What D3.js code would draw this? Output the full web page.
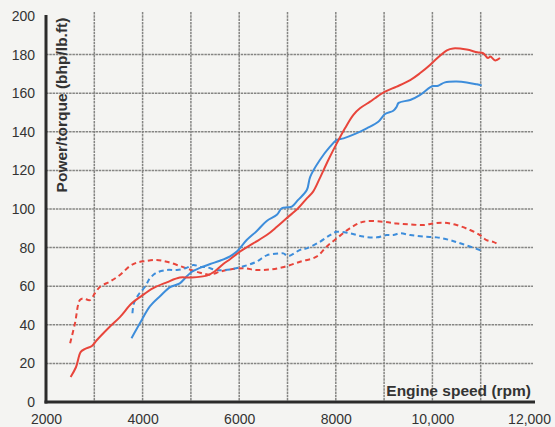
<!DOCTYPE html>
<html><head><meta charset="utf-8">
<script src="https://cdn.jsdelivr.net/npm/d3@7"></script>
<style>
html,body{margin:0;padding:0;background:#f4f4f2;}
svg{display:block;}
text{font-family:"Liberation Sans",Arial,Helvetica,sans-serif;}
</style></head>
<body>
<svg id="c" width="555" height="427"></svg>
<script>
const xTicks = [2000, 4000, 6000, 8000, 10000, 12000];
const xTickLabels = ["2000", "4000", "6000", "8000", "10,000", "12,000"];
const xGrid = [3000, 4000, 5000, 6000, 7000, 8000, 9000, 10000, 11000];
const yTicks = [0, 20, 40, 60, 80, 100, 120, 140, 160, 180, 200];
const yGrid = [20, 40, 60, 80, 100, 120, 140, 160, 180];

const redPowerRpm = [2510,2620,2720,2810,2950,3050,3320,3530,3770,3980,4220,4500,4770,4980,5330,5500,5670,5810,6020,6290,6570,6780,6980,7220,7400,7530,7670,7845,8020,8190,8360,8500,8710,8810,9020,9260,9540,9740,9950,10020,10300,10430,10710,10930,11050,11150,11200,11300,11400];
const redPowerVal = [13,18,26,27.5,29,32,39,44,51,55,59,62,64.5,64.5,65.5,67.8,71.5,74,78,82.2,86.5,90.8,95.2,100.4,105.5,109,116,125.4,134,141.8,148.7,152.2,155.6,157.4,160.8,163.4,166.8,170.3,174.6,176.3,182.2,183.2,182.6,181.2,180.7,178.2,179,177,178.2];

const bluePowerRpm = [3770,3950,4150,4360,4570,4770,4910,5020,5190,5400,5600,5810,5950,6155,6360,6570,6780,6880,7000,7090,7220,7400,7470,7670,7880,8020,8160,8400,8640,8880,9020,9190,9260,9300,9540,9740,9950,10020,10120,10260,10500,10710,10920,11020];
const bluePowerVal = [33,41,49.5,54.8,59.5,61.5,65,67.5,69.5,71.5,73.2,75.5,78,83.9,88.5,93.8,97,100.4,100.9,101.2,104.7,109.8,116.7,125.4,132.3,135.8,136.6,138.9,141.8,145.2,149.2,150.9,153,155,156.5,159,163,163.7,163.9,165.6,166,165.6,164.6,164];

const redTorqueRpm = [2500,2600,2700,2770,2910,3010,3120,3330,3530,3740,3880,4050,4290,4500,4770,4980,5190,5395,5600,5810,6090,6360,6640,6900,7260,7600,7810,8020,8290,8570,8980,9260,9540,9810,10020,10230,10500,10780,10985,11120,11260,11360];
const redTorqueVal = [30.5,40.8,52.8,53.7,52.8,56.3,59.7,62.5,65.8,70.5,72.2,73,73.6,72.7,70.5,68.6,67,66,67.5,68.7,69.3,68.4,68.7,69.8,72.7,75.3,80.5,84.8,90,93.4,93.4,92.5,92,91.7,92.5,92.9,91.7,89.1,86.5,83.9,83,81.7];

const blueTorqueRpm = [3790,3820,3910,4050,4150,4290,4500,4710,4910,5050,5190,5330,5530,5810,6090,6360,6570,6840,6914,7017,7260,7400,7670,7880,8020,8290,8570,8850,9050,9190,9330,9540,9810,10090,10360,10640,11020];
const blueTorqueVal = [46,51.1,55.4,59.7,64,67,68.4,68.4,69.5,71,70.1,69.8,68.4,68.7,70.3,72.7,76,77,77,75.6,78.8,79.6,83,86.5,88.2,87.4,85.7,85.3,86.5,86.5,87.4,86.5,85.7,85.3,83.9,81.7,78.4];

const RED = "#e8453b", BLUE = "#3d8ddb";

const svg = d3.select("#c");
const x = d3.scaleLinear().domain([2000, 12000]).range([46, 529]);
const y = d3.scaleLinear().domain([0, 200]).range([402, 16]);

svg.append("rect").attr("width", 555).attr("height", 427).attr("fill", "#f4f4f2");

// grid
svg.append("g").selectAll("line").data(yGrid).join("line")
  .attr("x1", x(2000)).attr("x2", 533)
  .attr("y1", d => y(d)).attr("y2", d => y(d))
  .attr("stroke", "#858583").attr("stroke-width", 1.5).attr("stroke-dasharray", "2.5,0.8");
svg.append("g").selectAll("line").data(xGrid).join("line")
  .attr("x1", d => x(d)).attr("x2", d => x(d))
  .attr("y1", 12).attr("y2", y(0))
  .attr("stroke", "#858583").attr("stroke-width", 1.5).attr("stroke-dasharray", "2.5,0.8");

// axes lines
svg.append("line").attr("x1", x(2000)).attr("x2", x(2000)).attr("y1", 15).attr("y2", y(0) + 1.5)
  .attr("stroke", "#2b2b2b").attr("stroke-width", 3);
svg.append("line").attr("x1", x(2000) - 1.5).attr("x2", 535).attr("y1", y(0)).attr("y2", y(0))
  .attr("stroke", "#2b2b2b").attr("stroke-width", 3);

// y tick labels via axis
const yAxis = d3.axisLeft(y).tickValues(yTicks).tickSize(0).tickPadding(0).tickFormat(d3.format("d"));
const gy = svg.append("g").attr("transform", "translate(35,0)").call(yAxis);
gy.select(".domain").remove();
gy.selectAll("text").attr("font-size", 14).attr("fill", "#333").attr("font-family", "Liberation Sans, Arial, sans-serif");

// x tick labels via axis
const xAxis = d3.axisBottom(x).tickValues(xTicks).tickSize(0).tickPadding(0).tickFormat((d, i) => xTickLabels[i]);
const gx = svg.append("g").attr("transform", "translate(0,414)").call(xAxis);
gx.select(".domain").remove();
gx.selectAll("text").attr("font-size", 14).attr("fill", "#333").attr("font-family", "Liberation Sans, Arial, sans-serif");

// axis titles
svg.append("text").attr("transform", "translate(67,105) rotate(-90)")
  .attr("text-anchor", "middle").attr("font-size", 15.5).attr("font-weight", "bold").attr("fill", "#333")
  .text("Power/torque (bhp/lb.ft)");
svg.append("text").attr("x", 531).attr("y", 396).attr("text-anchor", "end")
  .attr("font-size", 15.5).attr("font-weight", "bold").attr("fill", "#333")
  .text("Engine speed (rpm)");

// lines
const line = d3.line().x(d => x(d[0])).y(d => y(d[1])).curve(d3.curveCatmullRom.alpha(0.5));
function draw(rpm, val, color, dashed) {
  const pts = rpm.map((r, i) => [r, val[i]]);
  svg.append("path").datum(pts).attr("d", line)
    .attr("fill", "none").attr("stroke", color).attr("stroke-width", 2)
    .attr("stroke-linejoin", "round").attr("stroke-linecap", "butt")
    .attr("stroke-dasharray", dashed ? "5,3.5" : null);
}
draw(redTorqueRpm, redTorqueVal, RED, true);
draw(blueTorqueRpm, blueTorqueVal, BLUE, true);
draw(bluePowerRpm, bluePowerVal, BLUE, false);
draw(redPowerRpm, redPowerVal, RED, false);
</script>
</body></html>
